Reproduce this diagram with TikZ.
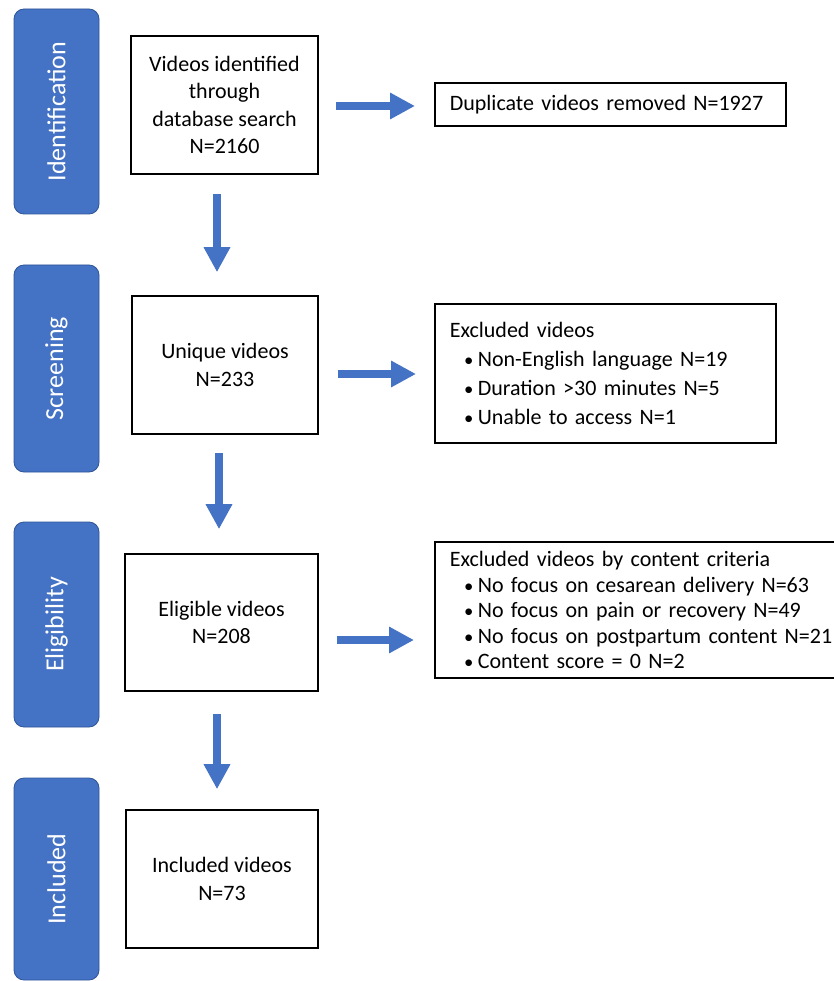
\documentclass[tikz,border=0pt]{standalone}
\usepackage{fontspec}
\setmainfont{Carlito}
\usetikzlibrary{arrows.meta,calc}
\definecolor{stageblue}{HTML}{4472C4}
\definecolor{stageedge}{HTML}{2F5597}
\tikzset{
  stage/.style={rectangle, rounded corners=10pt, fill=stageblue, draw=stageedge, line width=0.8pt,
    minimum width=85pt, inner sep=0pt},
  stagelabel/.style={text=white, rotate=90, font=\fontsize{26}{30}\selectfont},
  mainbox/.style={rectangle, draw=black, line width=1.6pt, fill=white, align=center,
    font=\fontsize{22}{27.5}\selectfont, inner sep=4pt},
  sidebox/.style={rectangle, draw=black, line width=1.6pt, fill=white, align=left,
    inner xsep=15pt, inner ysep=2pt, anchor=west},
  flowarrow/.style={draw=stageblue, line width=8.5pt, -{Triangle[width=25pt,length=25pt]}}
}
\newcommand{\bul}{\hspace*{19pt}\makebox[0pt]{\scalebox{0.85}{\textbullet}}\hspace*{9pt}}
\begin{document}
\begin{tikzpicture}[x=1pt,y=-1pt]
\path[use as bounding box, fill=white] (0,0) rectangle (833,981);

% stage labels
\node[stage, minimum height=205pt] (sid) at (56.5,111.5) {};
\node[stagelabel] (lid) at (sid.center) {Identification};
\node[stage, minimum height=207pt] (sscr) at (56.5,368.5) {};
\node[stagelabel] (lscr) at (sscr.center) {Screening};
\node[stage, minimum height=205pt] (seli) at (56.5,624.5) {};
\node[stagelabel] (leli) at (seli.center) {Eligibility};
\node[stage, minimum height=202pt] (sinc) at (56.5,879) {};
\node[stagelabel] (linc) at (sinc.center) {Included};

% main boxes
\node[mainbox, minimum width=187pt, minimum height=138pt] (b1) at (224.5,105)
  {Videos identified\\through\\database search\\N=2160};
\node[mainbox, minimum width=186pt, minimum height=138pt] (b2) at (225,365)
  {Unique videos\\N=233};
\node[mainbox, minimum width=193pt, minimum height=137pt] (b3) at (221.5,622.5)
  {Eligible videos\\N=208};
\node[mainbox, minimum width=192pt, minimum height=138pt] (b4) at (222,879)
  {Included videos\\N=73};

% side boxes
\node[sidebox, text width=321pt, minimum height=43pt,
  font=\fontsize{22}{27.5}\selectfont] (dup) at (434,104.5)
  {Duplicate videos removed N=1927};
\node[sidebox, text width=311pt, minimum height=139pt,
  font=\fontsize{22}{29}\selectfont] (exc) at (434,373.5)
  {Excluded videos\\
   \bul Non-English language N=19\\
   \bul Duration >30 minutes N=5\\
   \bul Unable to access N=1};
\node[sidebox, text width=396pt, minimum height=136pt,
  font=\fontsize{22}{25.5}\selectfont] (con) at (434,610)
  {Excluded videos by content criteria\\
   \bul No focus on cesarean delivery N=63\\
   \bul No focus on pain or recovery N=49\\
   \bul No focus on postpartum content N=21\\
   \bul Content score = 0 N=2};

% horizontal arrows
\draw[flowarrow, shorten <=17pt, shorten >=19pt] ([yshift=-1pt]b1.east) -- ([yshift=-1pt]b1.east -| dup.west);
\draw[flowarrow, shorten <=19pt, shorten >=18pt] ([yshift=-9pt]b2.east) -- ([yshift=-9pt]b2.east -| exc.west);
\draw[flowarrow, shorten <=18pt, shorten >=20pt] ([yshift=-17.5pt]b3.east) -- ([yshift=-17.5pt]b3.east -| con.west);

% vertical arrows
\draw[flowarrow, shorten <=19pt, shorten >=23pt] ([xshift=-7.5pt]b1.south) -- ([xshift=-7.5pt]b1.south |- b2.north);
\draw[flowarrow, shorten <=18pt, shorten >=24pt] ([xshift=-6pt]b2.south) -- ([xshift=-6pt]b2.south |- b3.north);
\draw[flowarrow, shorten <=22pt, shorten >=20pt] ([xshift=-4.5pt]b3.south) -- ([xshift=-4.5pt]b3.south |- b4.north);
\end{tikzpicture}
\end{document}
